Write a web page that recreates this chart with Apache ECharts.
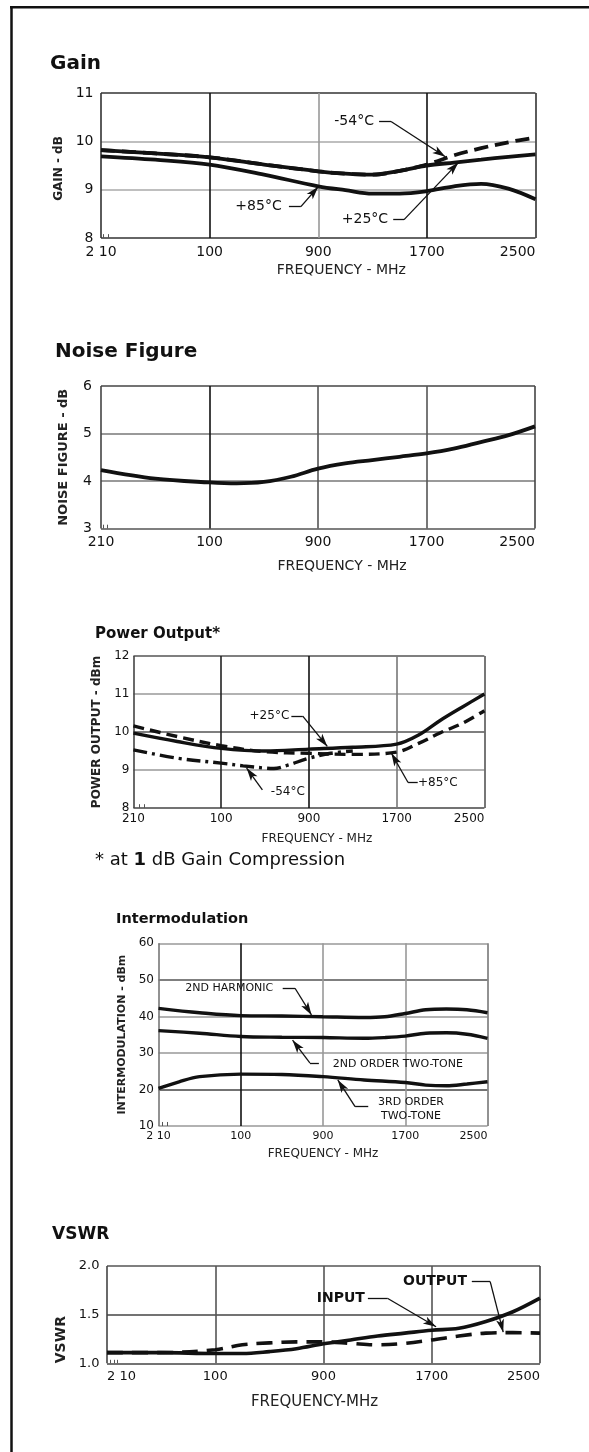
<!DOCTYPE html>
<html><head><meta charset="utf-8">
<script src="https://cdn.jsdelivr.net/npm/echarts@6/dist/echarts.min.js"></script>
<style>html,body{margin:0;padding:0;background:#fff}#c{width:589px;height:1452px}</style>
</head><body><div id="c"></div>
<script>
// ---------------- data ----------------
const ticksA = ['2 10','100','900','1700','2500'];
const ticksB = ['210','100','900','1700','2500'];

// Gain (dB) vs frequency-axis position (0..4 = tick index)
const gainX   = [0,0.5,1,1.5,2,2.25,2.5,2.75,3,3.25,3.5,3.75,4];
const gainP25 = [9.82,9.75,9.67,9.52,9.38,9.33,9.31,9.39,9.50,9.56,9.62,9.68,9.73];
const gainM54 = [9.82,9.75,9.67,9.52,9.38,9.33,9.31,9.39,9.52,9.71,9.86,9.98,10.08];
const gainP85 = [9.69,9.62,9.52,9.31,9.07,8.99,8.92,8.92,8.97,9.07,9.12,9.02,8.80];

// Noise figure (dB)
const nfX  = [0,0.5,1,1.25,1.5,1.75,2,2.25,2.5,2.75,3,3.25,3.5,3.75,4];
const nfDb = [4.23,4.05,3.97,3.95,3.98,4.09,4.26,4.37,4.44,4.51,4.58,4.68,4.82,4.96,5.15];

// Power output (dBm)
const powX   = [0,0.5,1,1.5,2,2.5,3,3.25,3.5,3.75,4];
const powP25 = [9.97,9.75,9.57,9.50,9.55,9.60,9.68,9.92,10.31,10.66,11.0];
const powP85 = [10.16,9.88,9.64,9.48,9.44,9.41,9.47,9.70,9.98,10.23,10.56];
const powM54X = [0,0.5,1,1.25,1.5,1.6,1.75,2,2.25,2.5];
const powM54  = [9.53,9.31,9.18,9.11,9.05,9.04,9.12,9.31,9.44,9.50];

// Intermodulation (dBm)
const imX     = [0,0.5,1,1.5,2,2.5,2.75,3,3.25,3.5,3.75,4];
const im2Harm = [42.2,41.0,40.2,40.1,39.9,39.7,39.9,40.8,41.8,42.0,41.8,41.0];
const im2Tone = [36.1,35.4,34.5,34.3,34.2,34.0,34.2,34.6,35.4,35.5,35.1,34.0];
const im3X    = [0,0.25,0.5,1,1.5,2,2.5,3,3.25,3.5,3.75,4];
const im3Tone = [20.3,22.1,23.5,24.2,24.1,23.5,22.6,21.9,21.2,21.0,21.5,22.1];

// VSWR
const vsX      = [0,0.5,1,1.25,1.5,1.75,2,2.25,2.5,2.75,3,3.25,3.5,3.75,4];
const vsInput  = [1.11,1.11,1.10,1.10,1.12,1.15,1.20,1.24,1.28,1.31,1.34,1.36,1.43,1.53,1.67];
const vsOutput = [1.11,1.11,1.14,1.19,1.21,1.22,1.22,1.205,1.19,1.205,1.24,1.28,1.31,1.315,1.31];

// annotations (data units)
const gainNotes = [
  {text:'-54°C', at:[2.33,10.41], leader:[[2.56,10.41],[2.67,10.41],[3.17,9.68]]},
  {text:'+85°C', at:[1.45,8.65],  leader:[[1.73,8.65],[1.84,8.65],[2.0,9.06]]},
  {text:'+25°C', at:[2.43,8.38],  leader:[[2.69,8.38],[2.79,8.38],[3.29,9.56]]}
];
const powNotes = [
  {text:'+25°C', at:[1.55,10.42], leader:[[1.80,10.42],[1.93,10.42],[2.21,9.62]]},
  {text:'-54°C', at:[1.76,8.42],  leader:[[1.47,8.48],[1.29,9.05]]},
  {text:'+85°C', at:[3.47,8.67],  leader:[[3.24,8.67],[3.13,8.67],[2.94,9.44]]}
];
const imNotes = [
  {text:'2ND HARMONIC', at:[0.86,47.7], leader:[[1.51,47.7],[1.66,47.7],[1.86,40.4]]},
  {text:'2ND ORDER TWO-TONE', at:[2.91,27.0], leader:[[1.95,27.3],[1.84,27.3],[1.63,33.5]]},
  {text:'3RD ORDER\nTWO-TONE', at:[3.07,14.7], leader:[[2.55,15.3],[2.39,15.3],[2.18,22.6]]}
];
const vsNotes = [
  {text:'INPUT', at:[2.16,1.668], leader:[[2.41,1.668],[2.59,1.668],[3.04,1.376]]},
  {text:'OUTPUT', at:[3.03,1.84], leader:[[3.37,1.84],[3.54,1.84],[3.66,1.32]]}
];
// small log-scale tick marks at the lower-left corner of each plot: [x, yFrom, yTo]
const gainMinor = [[0.025,8,8.08],[0.065,8,8.08]];
const nfMinor   = [[0.025,3,3.08],[0.06,3,3.08]];
const powMinor  = [[0.072,8,8.1],[0.128,8,8.1]];
const imMinor   = [[0.046,10,11.1],[0.106,10,11.1]];
const vsMinor   = [[0.034,1,1.036],[0.065,1,1.036],[0.096,1,1.036]];

// ---------------- build ----------------
const FONT = "'DejaVu Sans', sans-serif";
const ink = '#111';

const panels = [
  {grid:{left:101,top:93,width:434.5,height:145}, ticks:ticksA,
   x:{size:14, margin:7, name:'FREQUENCY - MHz', gap:25, nsize:14, pad:[0,0,0,46], colors:['#333','#111','#999','#111','#333']},
   y:{min:8,max:11,interval:1, size:14, margin:7.5, name:'GAIN - dB', gap:32, nsize:12, pad:[0,6,0,0], colors:['#333','#aaa','#aaa','#333'], fmt:v=>String(v)}},
  {grid:{left:101,top:386,width:434,height:142.5}, ticks:ticksB,
   x:{size:14, margin:7, name:'FREQUENCY - MHz', gap:31, nsize:14, pad:[0,0,0,48], colors:['#444','#111','#555','#555','#444']},
   y:{min:3,max:6,interval:1, size:14, margin:9, name:'NOISE FIGURE - dB', gap:31, nsize:13, pad:0, colors:['#555','#777','#777','#444'], fmt:v=>String(v)}},
  {grid:{left:133.4,top:656,width:351,height:152}, ticks:ticksB,
   x:{size:12, margin:5, name:'FREQUENCY - MHz', gap:25, nsize:12, pad:[0,0,0,16], colors:['#444','#222','#111','#777','#555']},
   y:{min:8,max:12,interval:1, size:12, margin:4, name:'POWER OUTPUT - dBm', gap:26, nsize:12, pad:0, colors:['#444','#999','#555','#999','#555'], fmt:v=>String(v)}},
  {grid:{left:158.5,top:943.3,width:329,height:182.7}, ticks:ticksA,
   x:{size:11, margin:5, name:'FREQUENCY - MHz', gap:22, nsize:12, pad:0, colors:['#777','#111','#999','#999','#777']},
   y:{min:10,max:60,interval:10, size:12, margin:4.5, name:'INTERMODULATION - dBm', gap:29, nsize:11, pad:0, colors:['#999','#444','#999','#999','#555','#999'], fmt:v=>String(v)}},
  {grid:{left:107,top:1266,width:433,height:97.3}, ticks:ticksA, alignMin:'left',
   x:{size:13, margin:7, name:'FREQUENCY-MHz', gap:31, nsize:15, pad:[0,18,0,0], colors:['#444','#555','#555','#555','#444']},
   y:{min:1,max:2,interval:0.5, size:13, margin:7.5, name:'VSWR', gap:35, nsize:14, pad:[0,50,0,0], colors:['#444','#444','#555'], fmt:v=>v.toFixed(1)}}
];

const grids=[], xAxes=[], yAxes=[], series=[];
panels.forEach((p,i)=>{
  grids.push(Object.assign({show:false, containLabel:false}, p.grid));
  xAxes.push({type:'value', gridIndex:i, min:0, max:4, interval:1,
    axisLine:{show:false}, axisTick:{show:false},
    axisLabel:{formatter:v=>p.ticks[Math.round(v)]||'', color:ink, fontFamily:FONT, fontSize:p.x.size, margin:p.x.margin,
      alignMinLabel:p.alignMin||'center', alignMaxLabel:'right'},
    splitLine:{show:true, showMinLine:true, showMaxLine:true, lineStyle:{color:p.x.colors, width:1.6}},
    name:p.x.name, nameLocation:'middle', nameGap:p.x.gap,
    nameTextStyle:{color:'#222', fontFamily:FONT, fontSize:p.x.nsize, padding:p.x.pad}});
  yAxes.push({type:'value', gridIndex:i, min:p.y.min, max:p.y.max, interval:p.y.interval,
    axisLine:{show:false}, axisTick:{show:false},
    axisLabel:{formatter:p.y.fmt, color:ink, fontFamily:FONT, fontSize:p.y.size, margin:p.y.margin},
    splitLine:{show:true, showMinLine:true, showMaxLine:true, lineStyle:{color:p.y.colors, width:1.6}},
    name:p.y.name, nameLocation:'middle', nameGap:p.y.gap,
    nameTextStyle:{color:'#222', fontFamily:FONT, fontSize:p.y.nsize, fontWeight:'bold', padding:p.y.pad}});
});

function pts(xs, ys){ return xs.map((x,k)=>[x, ys[k]]); }
function curve(ci, name, xs, ys, o){
  o = o||{};
  return {type:'line', name, xAxisIndex:ci, yAxisIndex:ci, data:pts(xs,ys), smooth:0.35, symbol:'none',
    silent:true, animation:false, z:o.z||3,
    lineStyle:{color:ink, width:o.width||3.6, type:o.type||'solid', cap:'butt'}};
}
function notes(ci, list, minor, fontSize, fontWeight){
  const segs=[];
  list.forEach(n=>{
    const L=n.leader;
    for(let k=0;k<L.length-1;k++){
      const last = k===L.length-2;
      segs.push([{coord:L[k], symbol:'none'}, {coord:L[k+1], symbol:last?'arrow':'none', symbolSize:last?[6,13]:1}]);
    }
  });
  minor.forEach(m=>{
    segs.push([{coord:[m[0],m[1]], symbol:'none'}, {coord:[m[0],m[2]], symbol:'none', lineStyle:{width:1, color:'#555'}}]);
  });
  return {type:'line', name:'notes'+ci, xAxisIndex:ci, yAxisIndex:ci, data:[], silent:true, animation:false, z:4,
    markLine:{silent:true, animation:false, symbol:['none','none'], precision:4,
      lineStyle:{color:ink, width:1.3, type:'solid'}, itemStyle:{color:ink}, label:{show:false}, emphasis:{disabled:true}, data:segs},
    markPoint:{silent:true, animation:false, symbol:'rect', symbolSize:1, itemStyle:{color:'rgba(0,0,0,0)'},
      label:{show:true, position:'inside', color:ink, fontFamily:FONT, fontSize, fontWeight, lineHeight:fontSize+3},
      data:list.map(n=>({coord:n.at, value:0, label:{formatter:n.text}}))}};
}

series.push(
  curve(0,'-54°C',gainX,gainM54,{type:[14,7],z:2,width:3.8}),
  curve(0,'+85°C',gainX,gainP85,{width:3.8}),
  curve(0,'+25°C',gainX,gainP25,{width:3.8}),
  notes(0,gainNotes,gainMinor,14,'normal'),
  curve(1,'Noise Figure',nfX,nfDb,{width:3.8}),
  notes(1,[],nfMinor,12,'normal'),
  curve(2,'-54°C',powM54X,powM54,{type:[14,5,3,5],z:2,width:3.4}),
  curve(2,'+85°C',powX,powP85,{type:[11,6],z:2,width:3.4}),
  curve(2,'+25°C',powX,powP25,{width:3.4}),
  notes(2,powNotes,powMinor,12,'normal'),
  curve(3,'2ND HARMONIC',imX,im2Harm,{width:3.4}),
  curve(3,'2ND ORDER TWO-TONE',imX,im2Tone,{width:3.4}),
  curve(3,'3RD ORDER TWO-TONE',im3X,im3Tone,{width:3.4}),
  notes(3,imNotes,imMinor,11,'normal'),
  curve(4,'OUTPUT',vsX,vsOutput,{type:[16,9],z:2,width:3.6}),
  curve(4,'INPUT',vsX,vsInput,{width:3.6}),
  notes(4,vsNotes,vsMinor,14,'bold')
);

const titleStyle = (s)=>({color:ink, fontFamily:FONT, fontWeight:'bold', fontSize:s});
const option = {
  animation:false,
  backgroundColor:'#fff',
  title:[
    {text:'Gain', left:50, top:54, padding:0, textStyle:titleStyle(20)},
    {text:'Noise Figure', left:55, top:342, padding:0, textStyle:titleStyle(20)},
    {text:'Power Output*', left:95, top:627, padding:0, textStyle:titleStyle(15)},
    {text:'* at {b|1} dB Gain Compression', left:95, top:851, padding:0,
      textStyle:{color:ink, fontFamily:FONT, fontWeight:'normal', fontSize:18,
        rich:{b:{fontFamily:FONT, fontWeight:'bold', fontSize:18, color:ink}}}},
    {text:'Intermodulation', left:116, top:912, padding:0, textStyle:titleStyle(14.5)},
    {text:'VSWR', left:52, top:1226, padding:0, textStyle:titleStyle(17)}
  ],
  graphic:[
    {type:'line', shape:{x1:11.5, y1:6, x2:11.5, y2:1452}, style:{stroke:ink, lineWidth:2.5}, silent:true},
    {type:'line', shape:{x1:10, y1:7.3, x2:589, y2:7.3}, style:{stroke:ink, lineWidth:2.4}, silent:true}
  ],
  grid:grids, xAxis:xAxes, yAxis:yAxes, series
};
const chart = echarts.init(document.getElementById('c'), null, {renderer:'canvas'});
chart.setOption(option);
</script></body></html>
